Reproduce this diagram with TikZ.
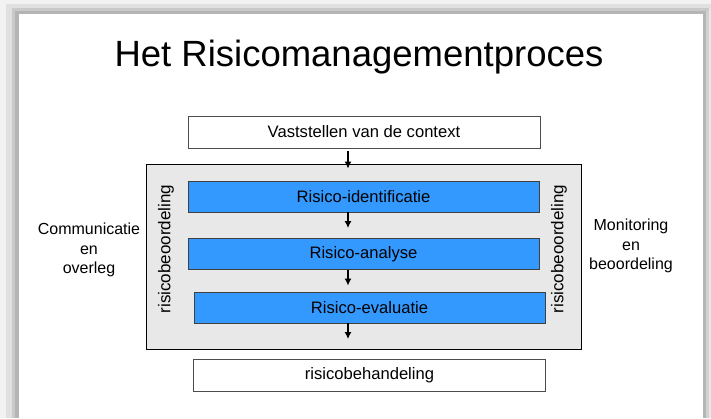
\documentclass[tikz,border=0pt]{standalone}
\usepackage{fontspec}
\setmainfont{Liberation Sans}
\usetikzlibrary{arrows, arrows.meta}
\definecolor{blokblauw}{RGB}{51,153,255}
\definecolor{vlakgrijs}{RGB}{232,232,232}

\begin{document}
\begin{tikzpicture}[x=1pt,y=-1pt,
  stap/.style={draw=black!75,line width=0.8pt,fill=blokblauw,minimum width=351pt,minimum height=31pt,inner sep=0pt,font=\fontsize{16.6}{19}\selectfont},
  kader/.style={draw=black!70,line width=0.8pt,fill=white,minimum width=352pt,minimum height=32pt,inner sep=0pt,font=\fontsize{16.6}{19}\selectfont},
  zijtekst/.style={align=center,font=\fontsize{16}{19.5}\selectfont},
  pijl/.style={-{Latex[length=7pt,width=7pt]},line width=1.5pt}]
\useasboundingbox (0,0) rectangle (711,418);
\fill[white] (0,0) rectangle (711,418);
%schaduw links
\fill[black!5]  (0,0)  rectangle (6,418);
\fill[black!12] (6,4)  rectangle (12,418);
\fill[black!21] (12,8) rectangle (15,418);
\fill[black!29] (15,11) rectangle (19,418);
%schaduw boven
\fill[black!5]  (6,0)  rectangle (711,4);
\fill[black!12] (12,4) rectangle (711,8);
\fill[black!21] (15,8) rectangle (711,11);
\fill[black!29] (19,11) rectangle (706,14);
%schaduw rechts
\fill[black!29] (703,14) rectangle (706,418);
\fill[black!18] (706,11) rectangle (709,418);
\fill[black!9]  (709,8) rectangle (711,418);

\node[anchor=base,font=\fontsize{36.5}{40}\selectfont] (titel) at (359,66) {Het Risicomanagementproces};

\node[draw=black,line width=1pt,fill=vlakgrijs,minimum width=435pt,minimum height=185pt,inner sep=0pt] (proces) at (363.5,256.5) {};

\node[kader] (context) at (364,132) {Vaststellen van de context};
\node[stap] (identificatie) at (363.5,196.5) {Risico-identificatie};
\node[stap] (analyse) at (363.5,254) {Risico-analyse};
\node[stap] (evaluatie) at (369.5,307.5) {Risico-evaluatie};
\node[kader] (behandeling) at (369.5,375.5) {risicobehandeling};

\node[rotate=90,font=\fontsize{17}{20}\selectfont] (beoordelingL) at (166,249) {risicobeoordeling};
\node[rotate=90,font=\fontsize{17}{20}\selectfont] (beoordelingR) at (559,249) {risicobeoordeling};

\node[zijtekst] (communicatie) at (89,250) {Communicatie\\en\\overleg};
\node[zijtekst] (monitoring) at (631,246) {Monitoring\\en\\beoordeling};

\coordinate (as) at (348,0); %as van de pijlen
\draw[pijl,shorten <=3pt,shorten >=12pt] (as |- context.south) -- (as |- identificatie.north);
\draw[pijl,shorten >=10pt] (as |- identificatie.south) -- (as |- analyse.north);
\draw[pijl,shorten >=6pt] (as |- analyse.south) -- (as |- evaluatie.north);
\draw[pijl,shorten >=20pt] (as |- evaluatie.south) -- (as |- behandeling.north);
\end{tikzpicture}
\end{document}
